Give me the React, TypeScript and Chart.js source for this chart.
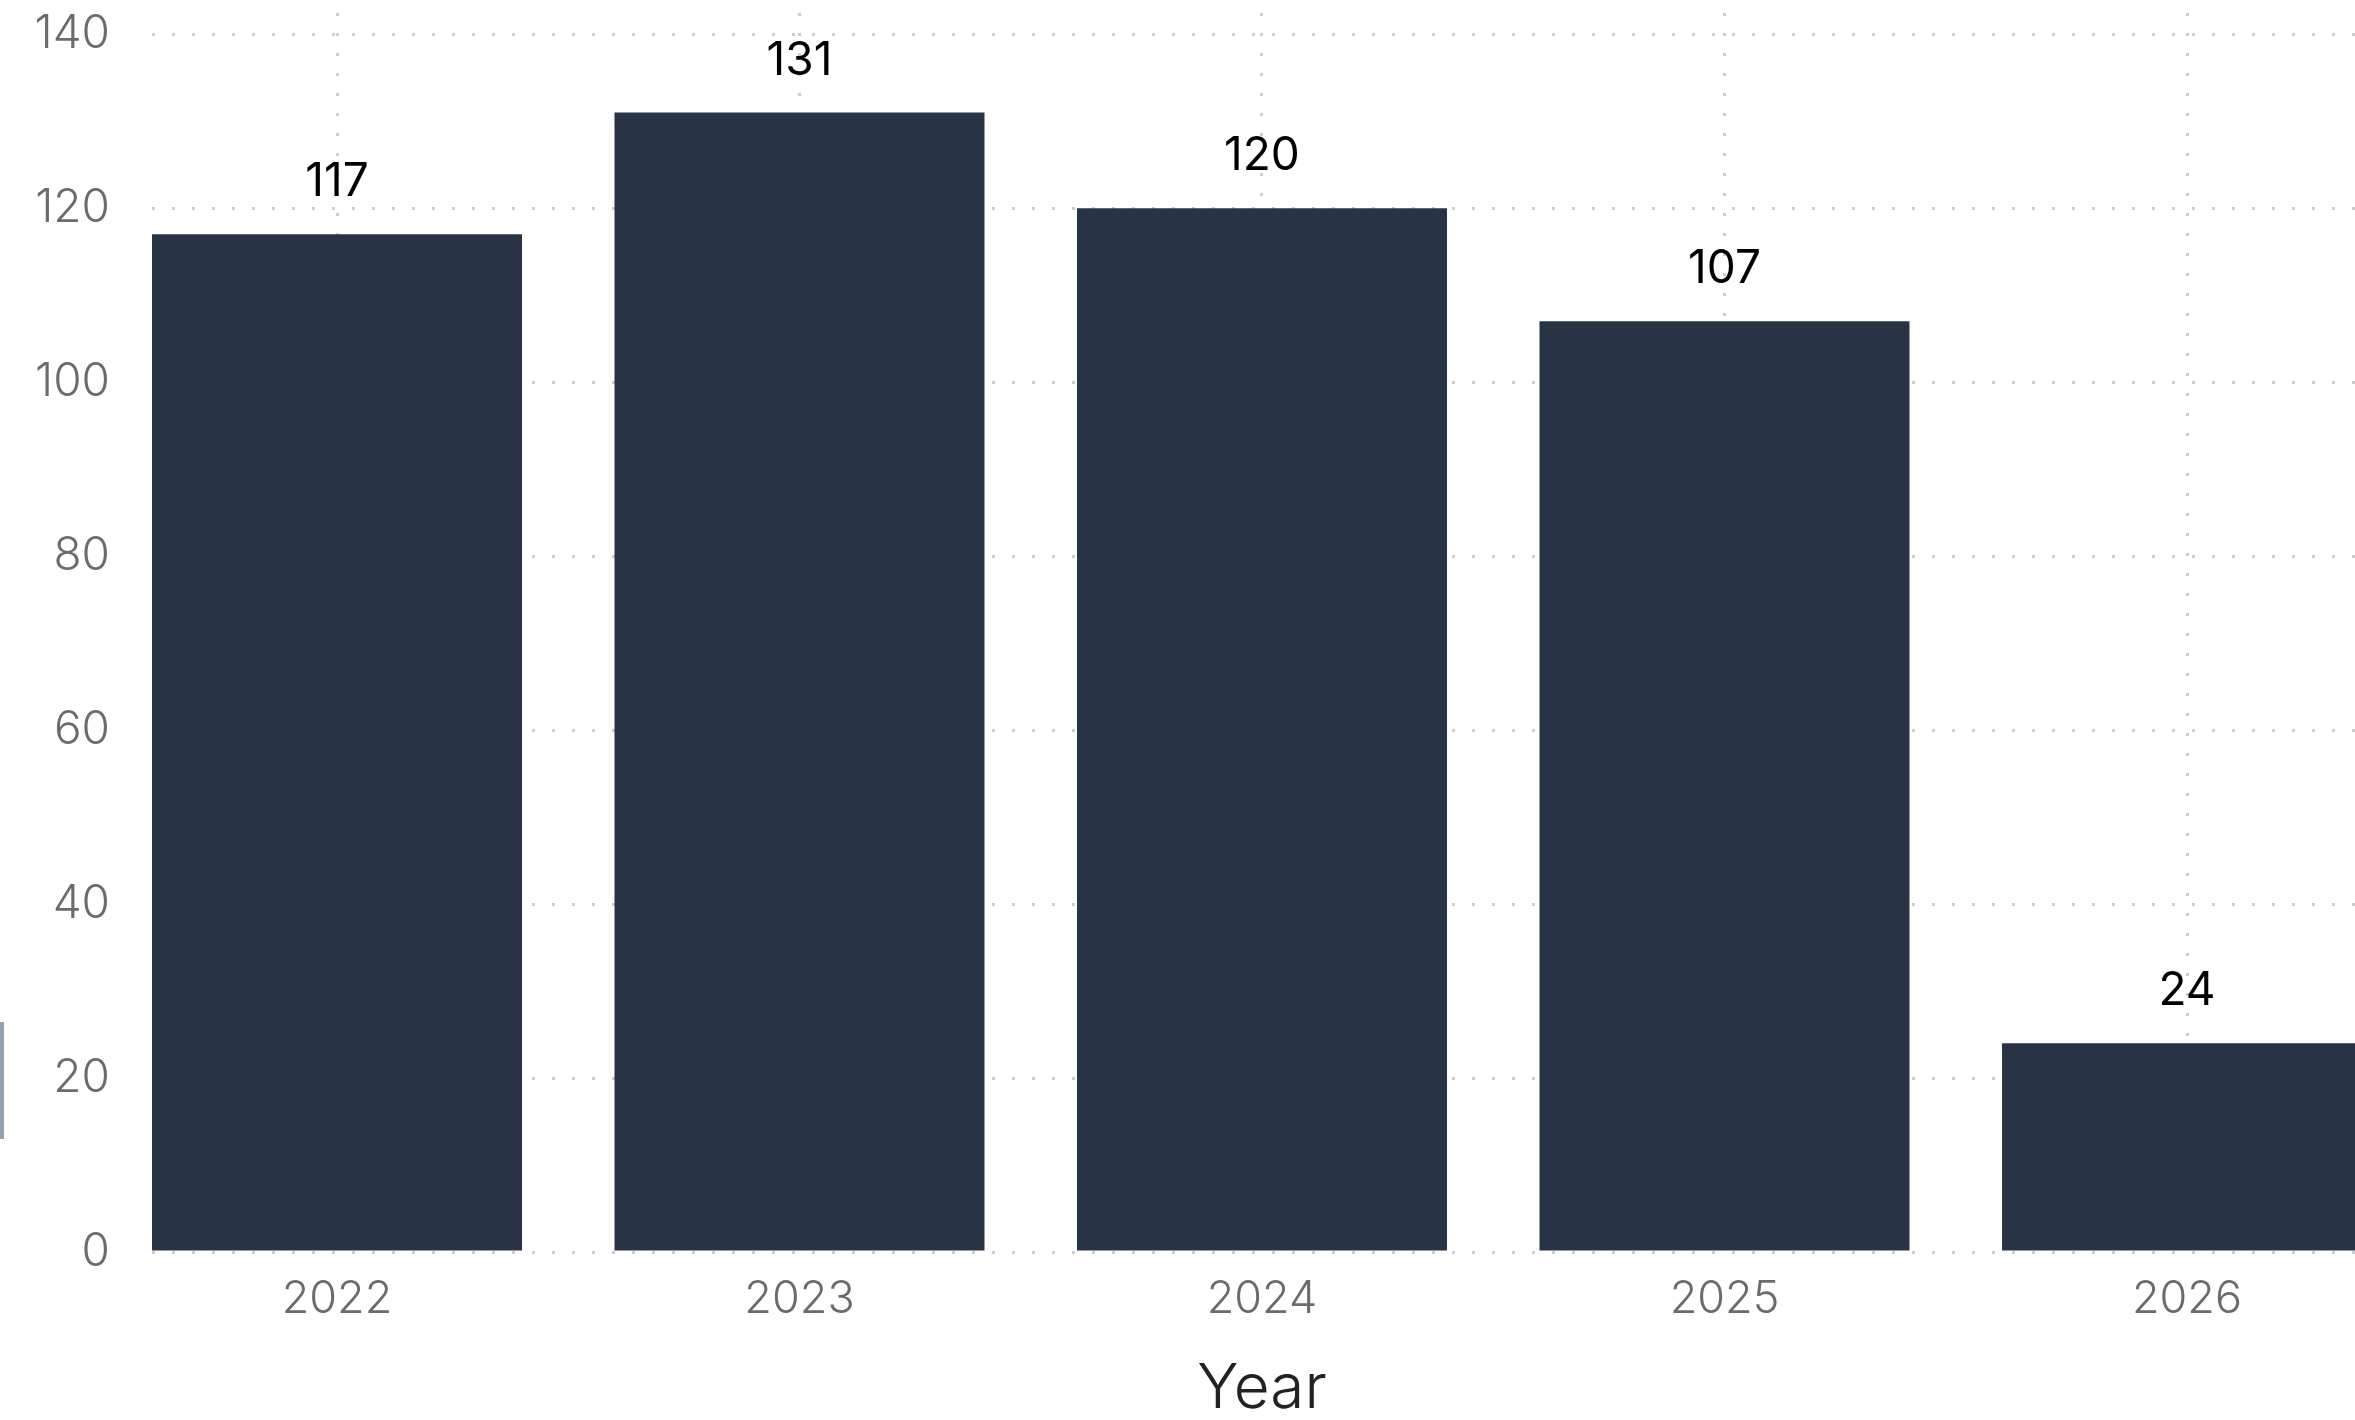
import React, { useEffect, useRef } from "react";
import { Chart, registerables } from "chart.js";

Chart.register(...registerables);

const categories = ["2022", "2023", "2024", "2025", "2026"];
const values = [117, 131, 120, 107, 24];
const yTickStep = 20;

const FONT = "Inter, 'Open Sans', sans-serif";

const labelPlugin = {
  id: "barLabels",
  afterDatasetsDraw(chart: any) {
    const ctx = chart.ctx;
    const meta = chart.getDatasetMeta(0);
    ctx.save();
    ctx.font = `400 46px ${FONT}`;
    ctx.fillStyle = "#000000";
    ctx.textAlign = "center";
    ctx.textBaseline = "alphabetic";
    meta.data.forEach((el: any, i: number) => {
      ctx.fillText(String(values[i]), el.x, el.y - 38);
    });
    ctx.restore();
  },
};

export default function App() {
  const ref = useRef<HTMLCanvasElement | null>(null);
  useEffect(() => {
    if (!ref.current) return;
    const chart = new Chart(ref.current, {
      type: "bar",
      data: {
        datasets: [
          {
            data: values.map((v, i) => ({ x: i, y: v })),
            backgroundColor: "#283445",
            borderWidth: 0,
            barPercentage: 0.8,
            categoryPercentage: 1,
          },
        ],
      },
      options: {
        responsive: false,
        animation: false,
        layout: { padding: { top: 3, right: 28, left: 0, bottom: 0 } },
        plugins: {
          legend: { display: false },
          tooltip: { enabled: false },
        },
        scales: {
          x: {
            type: "linear",
            min: -0.4,
            max: 4.4,
            offset: false,
            afterFit: (s: any) => {
              s.height = 175;
              s.paddingLeft = 0;
              s.paddingRight = 0;
            },
            border: { display: false, dash: [3, 17], dashOffset: 10 },
            grid: {
              color: "#cccccc",
              lineWidth: 3,
              drawTicks: false,
              offset: false,
            },
            ticks: {
              stepSize: 1,
              includeBounds: false,
              padding: 20,
              color: "#6b6b6b",
              font: { family: FONT, size: 45, weight: "300" as any },
              callback: (v: any) => categories[v] ?? "",
            } as any,
            title: {
              display: true,
              text: "Year",
              color: "#222222",
              font: { family: FONT, size: 62, weight: "300" as any },
              padding: { top: 0, bottom: 0 },
            },
          },
          y: {
            min: 0,
            max: 143.6,
            afterFit: (s: any) => {
              s.width = 152;
              s.paddingTop = 0;
              s.paddingBottom = 0;
            },
            border: { display: false, dash: [3, 17] },
            grid: {
              color: "#cccccc",
              lineWidth: 3,
              drawTicks: false,
            },
            ticks: {
              stepSize: yTickStep,
              includeBounds: false,
              padding: 42,
              color: "#6b6b6b",
              font: { family: FONT, size: 46, weight: "300" as any },
            } as any,
          },
        },
      },
      plugins: [labelPlugin],
    });
    return () => chart.destroy();
  }, []);

  return (
    <div
      style={{
        position: "absolute",
        left: 0,
        top: 0,
        width: 2355,
        height: 1420,
        overflow: "hidden",
        background: "#ffffff",
      }}
    >
      <canvas ref={ref} width={2400} height={1427} style={{ display: "block" }} />
      <div
        style={{
          position: "absolute",
          left: 0,
          top: 1022,
          width: 4,
          height: 117,
          background: "#91a1b1",
        }}
      />
    </div>
  );
}
